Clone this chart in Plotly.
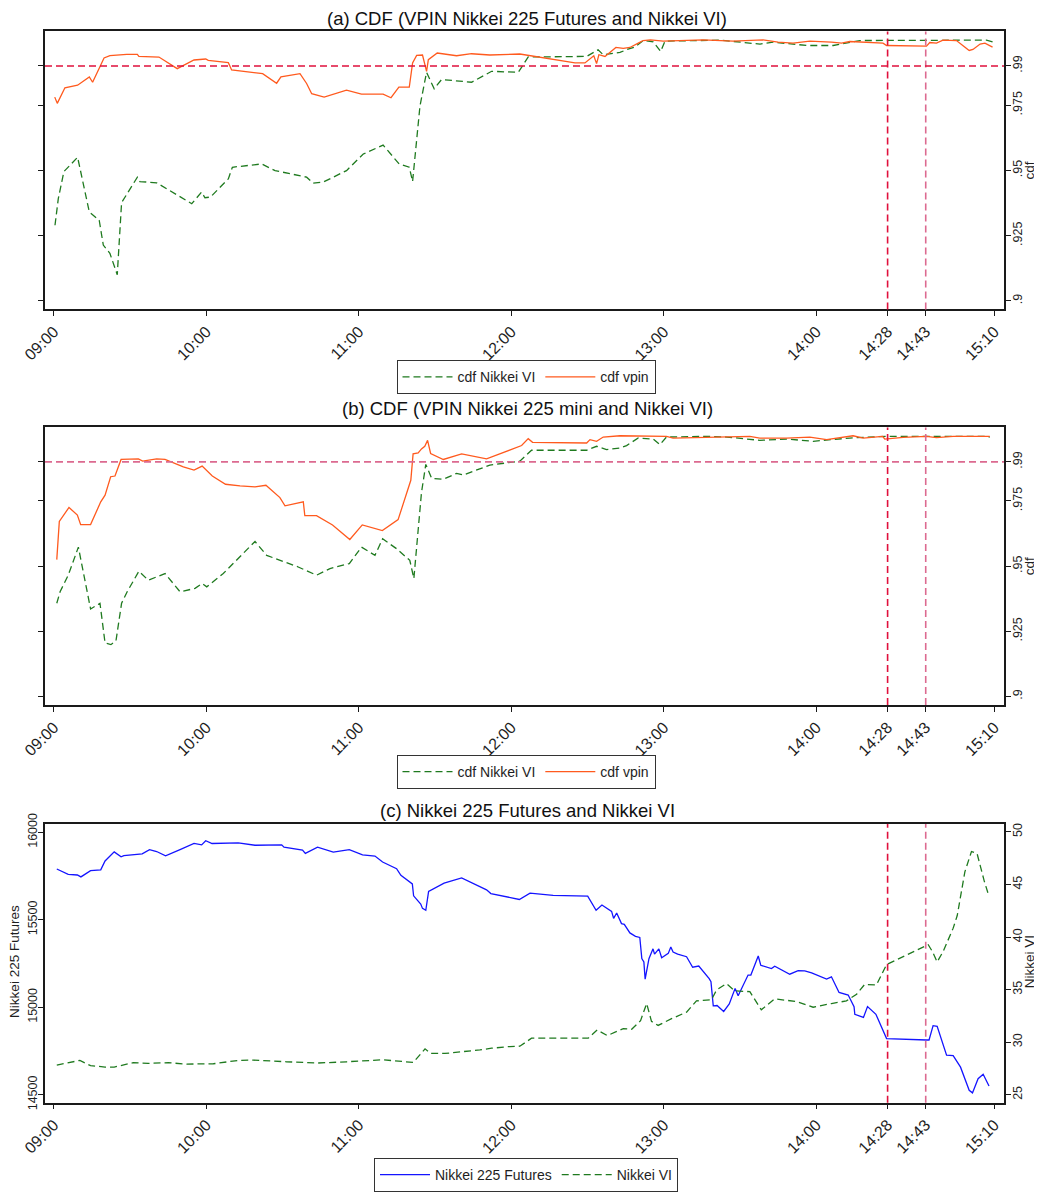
import pandas as pd
import plotly.graph_objects as go

# ---------------- data (minutes after 09:00 open) ----------------
SESSION_OPEN = pd.Timestamp("2013-05-23 09:00")

a_vpin_min = [0.3, 1.3, 4.3, 9.3, 13.9, 15.2, 19.7, 22.0, 28.6, 32.8, 33.4, 41.3, 48.5, 55.1, 59.7, 60.7,
              68.6, 69.9, 82.1, 87.6, 89.3, 96.8, 99.4, 101.4, 106.3, 115.1, 121.0, 129.5, 132.6, 135.7,
              139.8, 141.1, 142.7, 145.0, 146.6, 147.3, 150.8, 158.4, 164.3, 171.5, 183.3, 187.3, 191.2,
              205.0, 208.9, 212.4, 213.5, 214.4, 216.8, 221.1, 224.0, 226.6, 229.9, 231.8, 234.7, 239.7,
              255.4, 267.2, 279.0, 284.9, 290.8, 297.4, 305.9, 309.9, 313.1, 319.7, 326.2, 327.6, 343.3,
              344.6, 347.2, 349.8, 355.1, 357.7, 360.1, 361.6, 364.4, 366.3, 369.3]
a_vpin_cdf = [.97805, .97566, .98163, .98262, .98581, .98376, .99304, .99392, .99441, .99441,
              .99365, .99342, .98897, .99228, .99266, .99213, .99126, .98848, .98707, .98338,
              .98581, .98707, .98327, .97935, .97805, .98072, .97919, .97919, .97782, .98186,
              .98186, .99114, .99403, .99419, .98795, .9924, .99495, .99392, .99468, .99419,
              .99457, .99392, .9934, .99114, .99114, .99392, .99088, .9943, .99365, .99708,
              .9967, .99708, .99875, .99974, 1.0, .99951, 1.0, .99951, 1.0, .99913,
              .99875, .99951, .99913, .99875, .99936, .99898, .99875, .99784, .99761, .99898,
              .99875, .99989, .99974, .99772, .99594, .99632, .99837, .99875, .99723]

a_vi_min = [0.4, 1.7, 3.9, 9.3, 13.9, 17.8, 19.4, 22.0, 24.9, 26.6, 32.8, 33.8, 40.4, 54.2, 58.1, 59.4,
            61.6, 68.6, 70.2, 81.7, 87.0, 99.4, 102.0, 105.9, 115.1, 121.7, 129.5, 135.8, 139.8, 141.1,
            144.0, 146.6, 149.6, 152.5, 164.3, 172.2, 182.7, 186.6, 209.6, 214.1, 216.1, 222.7, 225.9,
            228.6, 231.8, 235.8, 238.7, 240.4, 262.0, 277.8, 283.0, 296.1, 306.6, 313.1, 317.1, 366.9, 369.5]
a_vi_cdf = [.92897, .93913, .94951, .955, .93407, .93087, .92136, .9182, .91, .9376,
            .94738, .94571, .94522, .93722, .94168, .93951, .93977, .94674, .95119, .95245,
            .9499, .94738, .9451, .94548, .9499, .95625, .95967, .95245, .95119, .94571,
            .97463, .98756, .98125, .98479, .98376, .98795, .98756, .99342, .99365, .9962,
            .9943, .99517, .99647, .99723, .99974, .99925, .99556, .99951, .99989, .99837,
            .99913, .99784, .99784, .99898, .99974, .99989, .99913]

b_vpin_min = [1.1, 2.1, 5.9, 9.2, 10.5, 14.4, 18.4, 20.1, 22.3, 24.0, 26.4, 33.2, 34.9, 40.4, 43.7, 50.9,
              55.1, 58.3, 62.3, 67.5, 73.2, 79.1, 83.4, 88.9, 90.9, 98.1, 98.7, 103.3, 109.6, 116.4,
              121.3, 129.2, 135.4, 140.4, 141.3, 143.3, 144.6, 145.9, 147.0, 148.2, 153.2, 160.4, 170.2,
              184.0, 186.6, 188.3, 209.6, 210.9, 213.5, 216.1, 222.7, 241.0, 243.6, 258.1, 265.9, 273.8,
              277.7, 288.2, 297.4, 304.0, 314.4, 318.4, 326.0, 326.9, 334.1, 343.3, 347.2, 353.8, 361.6, 368.2]
b_vpin_cdf = [.95248, .96717, .9725, .96961, .96591, .96591, .97467, .97722, .98429, .98456,
              .99091, .99114, .99027, .99114, .99091, .9881, .98684, .98836, .98456, .9814,
              .98075, .98037, .98102, .9763, .97314, .97467, .96934, .96934, .9658, .96021,
              .9658, .96363, .96782, .98292, .99304, .99342, .99495, .99597, .99826, .9932,
              .99091, .99304, .99114, .99624, .9989, .9975, .99723, .99852, .99788, .99951,
              1.0, .99978, .99913, .99951, .99978, .99978, .99913, .99913, .99951, .99852,
              1.0, .99913, .99978, .99875, .9994, .99978, .99928, .99978, .99978, .99978]

b_vi_min = [1.1, 2.4, 5.6, 9.6, 14.4, 18.1, 20.1, 22.4, 24.4, 26.6, 28.8, 33.4, 37.1, 43.7, 49.6, 55.5,
            58.3, 60.1, 66.6, 73.2, 79.1, 83.7, 90.9, 96.1, 103.3, 108.6, 116.2, 121.0, 126.3, 129.3,
            134.8, 140.0, 141.6, 144.6, 146.3, 148.6, 153.2, 158.4, 161.0, 171.5, 183.3, 187.9, 209.6,
            213.5, 217.4, 222.7, 225.3, 229.9, 235.8, 238.4, 241.0, 256.8, 264.7, 277.7, 288.2, 298.7,
            313.1, 327.6, 366.9, 368.2]
b_vi_cdf = [.93574, .94016, .94651, .95728, .93357, .93574, .92052, .91987, .9214, .93574,
            .94016, .94803, .9446, .94715, .94016, .94145, .94335, .94206, .94715, .95347,
            .95945, .95412, .95157, .94967, .94651, .94906, .95096, .95728, .95412, .96047,
            .95667, .95222, .94525, .9782, .98901, .98368, .9833, .98559, .98494, .98874,
            .99027, .99445, .99445, .99597, .99472, .99533, .99624, .99913, .99875, .99662,
            .99951, .99978, .99951, .99826, .99875, .99788, .99913, .99978, .99978, .99951]

c_fut_min = [1.1, 5.6, 9.2, 10.6, 14.4, 18.4, 20.1, 23.7, 26.4, 27.5,
             34.7, 37.6, 40.4, 43.9, 49.6, 55.1, 58.1, 59.7, 62.2, 72.5,
             79.1, 89.6, 90.5, 97.8, 98.9, 103.7, 109.9, 116.2, 121.4, 126.3,
             129.3, 134.8, 136.5, 141.0, 141.5, 144.3, 145.0, 146.3, 147.4, 153.5,
             160.4, 170.2, 171.9, 183.1, 187.3, 196.4, 210.0, 213.3, 215.6, 219.4,
             220.2, 221.4, 223.3, 224.4, 226.6, 228.8, 230.5, 231.3, 232.1, 232.6,
             234.1, 235.7, 236.3, 238.0, 239.1, 241.7, 242.7, 243.6, 245.4, 248.9,
             251.3, 253.7, 257.8, 258.5, 259.4, 260.9, 263.5, 265.7, 268.0, 269.2,
             273.1, 274.2, 277.1, 278.1, 282.3, 283.6, 289.5, 292.8, 295.4, 298.1,
             304.0, 305.9, 308.9, 312.5, 314.8, 315.1, 318.5, 320.1, 323.4, 327.6,
             343.3, 344.3, 345.9, 347.5, 351.2, 353.8, 356.7, 360.1, 361.4, 363.6,
             365.6, 367.9]
c_fut = [15790, 15760, 15756, 15745, 15781, 15785, 15836, 15888, 15860, 15867,
         15877, 15901, 15890, 15866, 15901, 15936, 15928, 15952, 15936, 15939,
         15926, 15928, 15915, 15898, 15879, 15915, 15887, 15901, 15871, 15864,
         15830, 15792, 15754, 15705, 15637, 15590, 15565, 15554, 15662, 15709,
         15739, 15671, 15650, 15616, 15652, 15639, 15635, 15554, 15584, 15548,
         15508, 15539, 15478, 15474, 15425, 15405, 15399, 15278, 15259, 15161,
         15278, 15334, 15304, 15334, 15283, 15308, 15344, 15316, 15304, 15289,
         15229, 15236, 15164, 15146, 15008, 15010, 14976, 15019, 15108, 15066,
         15184, 15184, 15293, 15240, 15221, 15235, 15189, 15210, 15208, 15197,
         15161, 15174, 15085, 15070, 15004, 14960, 14942, 15004, 14960, 14821,
         14813, 14813, 14895, 14891, 14726, 14724, 14658, 14526, 14511, 14592,
         14617, 14550]

c_vi_min = [1.1, 10.2, 14.4, 20.1, 23.7, 31.2, 37.1, 45.0, 52.2, 62.7,
            72.5, 78.4, 91.5, 103.8, 115.1, 123.0, 129.3, 141.4, 146.0, 148.3,
            153.8, 167.6, 172.2, 179.4, 183.3, 187.9, 210.2, 213.7, 217.7, 224.0,
            227.3, 230.8, 233.2, 235.1, 237.7, 243.0, 248.9, 252.8, 258.7, 260.7,
            264.6, 267.9, 273.8, 278.3, 283.6, 292.2, 298.7, 305.9, 311.8, 315.8,
            319.0, 323.6, 327.6, 344.0, 345.7, 347.5, 349.9, 353.8, 355.4, 358.4,
            361.0, 363.2, 366.0, 367.9]
c_vi = [27.83, 28.27, 27.77, 27.64, 27.64, 28.05, 27.99, 28.05, 27.92, 27.95,
        28.27, 28.30, 28.14, 28.02, 28.14, 28.27, 28.33, 28.08, 29.37, 28.93,
        28.93, 29.27, 29.43, 29.59, 29.62, 30.38, 30.38, 31.16, 30.63, 31.29,
        31.23, 32.05, 33.68, 31.98, 31.60, 32.24, 32.86, 33.93, 34.03, 34.97,
        35.57, 34.88, 34.81, 33.08, 34.12, 33.87, 33.33, 33.68, 33.93, 34.56,
        35.50, 35.44, 37.39, 39.27, 38.59, 37.64, 38.65, 40.85, 42.05, 46.20,
        48.14, 47.95, 45.35, 43.87]

time_tick_labels = ["09:00", "10:00", "11:00", "12:00", "13:00", "14:00", "14:28", "14:43", "15:10"]
event_times = ["14:28", "14:43"]
cdf_threshold = 0.99
cdf_ticks = [0.9, 0.925, 0.95, 0.975, 0.99]
cdf_tick_text = [".9", ".925", ".95", ".975", ".99"]
fut_ticks = [14500, 15000, 15500, 16000]
fut_tick_text = ["14500", "15000", "15500", "16000"]
vi_ticks = [25, 30, 35, 40, 45, 50]
vi_tick_text = ["25", "30", "35", "40", "45", "50"]

titles = ["(a) CDF (VPIN Nikkei 225 Futures and Nikkei VI)",
          "(b) CDF (VPIN Nikkei 225 mini and Nikkei VI)",
          "(c) Nikkei 225 Futures and Nikkei VI"]


# ---------------- helpers ----------------
def to_time(mins):
    return [SESSION_OPEN + pd.Timedelta(minutes=m) for m in mins]


def clock(s):
    return SESSION_OPEN.normalize() + pd.Timedelta(s + ":00")


tick_vals = [clock(s) for s in time_tick_labels]
event_vals = [clock(s) for s in event_times]

FONT = "Liberation Sans, Arial, sans-serif"
GREEN = "#1f7a1f"
ORANGE = "#ff5a1e"
BLUE = "#1414ff"
RED = "#e0103c"
PINK = "#dc6a90"
FRAME = "#1a1a1a"
DASH = "7px,4px"
TXT = "#1e1e1e"

x_range = [SESSION_OPEN - pd.Timedelta(seconds=212), SESSION_OPEN + pd.Timedelta(seconds=22428)]

fig = go.Figure()

# panel (a)
fig.add_trace(go.Scatter(x=to_time(a_vi_min), y=a_vi_cdf, mode="lines", name="cdf Nikkei VI",
                         line=dict(color=GREEN, width=1.3, dash=DASH), xaxis="x", yaxis="y", legend="legend"))
fig.add_trace(go.Scatter(x=to_time(a_vpin_min), y=a_vpin_cdf, mode="lines", name="cdf vpin",
                         line=dict(color=ORANGE, width=1.3), xaxis="x", yaxis="y", legend="legend"))
# panel (b)
fig.add_trace(go.Scatter(x=to_time(b_vi_min), y=b_vi_cdf, mode="lines", name="cdf Nikkei VI",
                         line=dict(color=GREEN, width=1.3, dash=DASH), xaxis="x2", yaxis="y2", legend="legend2"))
fig.add_trace(go.Scatter(x=to_time(b_vpin_min), y=b_vpin_cdf, mode="lines", name="cdf vpin",
                         line=dict(color=ORANGE, width=1.3), xaxis="x2", yaxis="y2", legend="legend2"))
# panel (c)
fig.add_trace(go.Scatter(x=to_time(c_fut_min), y=c_fut, mode="lines", name="Nikkei 225 Futures",
                         line=dict(color=BLUE, width=1.3), xaxis="x3", yaxis="y3", legend="legend3"))
fig.add_trace(go.Scatter(x=to_time(c_vi_min), y=c_vi, mode="lines", name="Nikkei VI",
                         line=dict(color=GREEN, width=1.3, dash=DASH), xaxis="x3", yaxis="y4", legend="legend3"))

# The page body adds an 8px offset, so the figure is 8px smaller and all page
# positions below are shifted by that offset.
OFF = 8.0
FIG_W, FIG_H = 1042 - int(OFF), 1192 - int(OFF)
PLOT_L, PLOT_R = 45.0, 1004.0          # page pixels of the plot frame
W_PLOT = PLOT_R - PLOT_L
ML = PLOT_L - OFF
MR = 1042 - PLOT_R

domains = [(31.7, 312.0), (431.0, 711.0), (831.0, 1112.0)]   # page pixels
title_y = [18.5, 412.0, 817.5]
legend_y = [380.5, 778.5, 1168.0]


def px_y(py):
    return 1 - (py - OFF) / FIG_H


def px_x(px):
    return (px - PLOT_L) / W_PLOT


def ydom(top, bot):
    return [px_y(bot), px_y(top)]


xaxis_common = dict(type="date", range=x_range, tickvals=tick_vals, ticktext=time_tick_labels,
                    tickangle=-45, ticks="outside", ticklen=5, tickwidth=1.2, tickcolor=FRAME,
                    showline=True, linecolor=FRAME, linewidth=1.5, mirror=True, showgrid=False,
                    zeroline=False, automargin=False,
                    tickfont=dict(family=FONT, size=16, color=TXT))

yaxis_common = dict(tickangle=-90, ticks="outside", ticklen=5, tickwidth=1.2, tickcolor=FRAME,
                    showline=True, linecolor=FRAME, linewidth=1.5, showgrid=False, zeroline=False,
                    automargin=False, ticklabelstandoff=-4,
                    tickfont=dict(family=FONT, size=12.5, color=TXT))

cdf_axis = dict(yaxis_common, range=[0.8967, 1.0032], tickvals=cdf_ticks, ticktext=cdf_tick_text,
                side="right", mirror="ticks")

layout = dict(
    width=FIG_W, height=FIG_H, autosize=False,
    margin=dict(l=ML, r=MR, t=0, b=0, pad=0),
    paper_bgcolor="white", plot_bgcolor="white",
    font=dict(family=FONT, color=TXT),
    xaxis=dict(xaxis_common, domain=[0, 1], anchor="y"),
    xaxis2=dict(xaxis_common, domain=[0, 1], anchor="y2"),
    xaxis3=dict(xaxis_common, domain=[0, 1], anchor="y3"),
    yaxis=dict(cdf_axis, domain=ydom(*domains[0]), anchor="x"),
    yaxis2=dict(cdf_axis, domain=ydom(*domains[1]), anchor="x2"),
    yaxis3=dict(yaxis_common, domain=ydom(*domains[2]), anchor="x3", range=[14455, 16047],
                tickvals=fut_ticks, ticktext=fut_tick_text, side="left"),
    yaxis4=dict(yaxis_common, overlaying="y3", anchor="x3", side="right", range=[24.25, 50.75],
                tickvals=vi_ticks, ticktext=vi_tick_text),
    showlegend=True,
)

for i, lg in enumerate(["legend", "legend2", "legend3"]):
    layout[lg] = dict(orientation="h", x=px_x(526), xanchor="center",
                      y=px_y(legend_y[i]), yanchor="middle" if i < 2 else "top",
                      bgcolor="white", bordercolor="#333", borderwidth=1,
                      font=dict(family=FONT, size=14, color=TXT),
                      traceorder="normal", itemwidth=50)

fig.update_layout(**layout)

annotations = []
for i, t in enumerate(titles):
    annotations.append(dict(text=t, xref="paper", yref="paper", x=px_x(527), y=px_y(title_y[i]),
                            xanchor="center", yanchor="middle", showarrow=False,
                            font=dict(family=FONT, size=18.5, color="#111")))
# axis titles
axis_titles = [("cdf", 1029, (domains[0][0] + domains[0][1]) / 2),
               ("cdf", 1029, (domains[1][0] + domains[1][1]) / 2),
               ("Nikkei VI", 1029, 970.5),
               ("Nikkei 225 Futures", 15, 970.0)]
for txt, xp, yp in axis_titles:
    annotations.append(dict(text=txt, xref="paper", yref="paper", x=px_x(xp), y=px_y(yp),
                            xanchor="center", yanchor="middle", textangle=-90, showarrow=False,
                            font=dict(family=FONT, size=13.5, color=TXT)))
fig.update_layout(annotations=annotations)

shapes = []
ax_pairs = [("x", "y"), ("x2", "y2"), ("x3", "y3")]
for k, (xa, ya) in enumerate(ax_pairs):
    for j, ev in enumerate(event_vals):
        shapes.append(dict(type="line", xref=xa, yref=ya + " domain", x0=ev, x1=ev, y0=0, y1=1,
                           line=dict(color=RED if j == 0 else PINK, width=1.6, dash=DASH)))
    if k < 2:
        shapes.append(dict(type="line", xref=xa + " domain", yref=ya, x0=0, x1=1,
                           y0=cdf_threshold, y1=cdf_threshold,
                           line=dict(color=RED if k == 0 else PINK, width=1.6, dash=DASH)))
fig.update_layout(shapes=shapes)

fig.write_html("out.html")
